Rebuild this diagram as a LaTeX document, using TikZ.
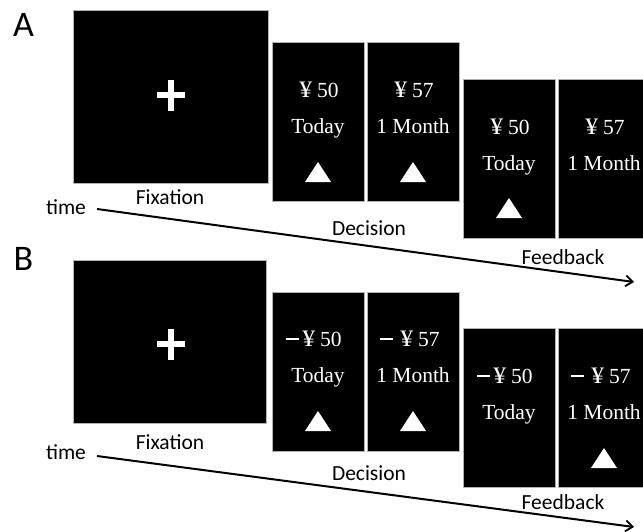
\documentclass[tikz,border=0pt]{standalone}
\usepackage{fontspec}
\setmainfont{Liberation Serif}
\newfontfamily\labfont{Carlito}
\usetikzlibrary{arrows.meta}
\newcommand{\yen}{\scalebox{1.2}[1.1]{¥}\kern5pt }
\newcommand{\minu}{\rule[6.5pt]{13pt}{2pt}\kern3pt }
\begin{document}
\begin{tikzpicture}[x=1pt,y=-1pt,
  screen/.style={fill=black,draw=gray!60,line width=0.8pt,inner sep=0pt},
  lab/.style={font=\labfont\fontsize{21.5}{21.5}\selectfont,inner sep=0pt,anchor=base},
  panel/.style={font=\labfont\fontsize{36}{36}\selectfont,inner sep=0pt,anchor=base},
  stim/.style={text=white,font=\fontsize{21.5}{21.5}\selectfont,inner sep=0pt,anchor=base},
  tri/.style={fill=white},
  crossbar/.style={fill=white},
  timeline/.style={line width=2pt,-{Straight Barb[length=7pt,width=11pt,line width=1.8pt]}}]
\useasboundingbox (0,0) rectangle (643,531);
\clip (0,0) rectangle (643,531);
% ---------------- Panel A ----------------
\node[panel] (A) at (23.5,36) {A};
\node[screen,minimum width=195,minimum height=173] (fixA) at (170.5,96.5) {};
\fill[crossbar] (157,92) rectangle (185,98);
\fill[crossbar] (168,79.5) rectangle (174,110.5);
\node[lab] (fixlabA) at (170,204) {Fixation};
\node[lab] (timeA) at (66,214) {time};
\coordinate (tA0) at (97,209);
\coordinate (tA1) at (634,282);
\draw[timeline] (tA0) -- (tA1);
\node[screen,minimum width=92,minimum height=159] (decA1) at (318,121.5) {};
\node[screen,minimum width=92,minimum height=159] (decA2) at (413,121.5) {};
\node[stim] at (319,97) {\yen 50};
\node[stim] at (318,133) {Today};
\fill[tri] (305,182) -- (331,182) -- (318,162) -- cycle;
\node[stim] at (414,97) {\yen 57};
\node[stim] at (413,133) {1 Month};
\fill[tri] (400,182) -- (426,182) -- (413,162) -- cycle;
\node[lab] (declabA) at (369,235) {Decision};
\node[screen,minimum width=92,minimum height=159] (fbA1) at (509,158.5) {};
\node[screen,minimum width=92,minimum height=159] (fbA2) at (604,158.5) {};
\node[stim] at (510,134) {\yen 50};
\node[stim] at (509,170) {Today};
\fill[tri] (496,218) -- (522,218) -- (509,198) -- cycle;
\node[stim] at (605,134) {\yen 57};
\node[stim] at (604,170) {1 Month};
\node[lab] (fblabA) at (563,264) {Feedback};
% ---------------- Panel B ----------------
\node[panel] (B) at (23.5,270) {B};
\node[screen,minimum width=193,minimum height=163] (fixB) at (169.5,341.5) {};
\fill[crossbar] (157,341) rectangle (185,347);
\fill[crossbar] (168,328.5) rectangle (174,359.5);
\node[lab] (fixlabB) at (170,449) {Fixation};
\node[lab] (timeB) at (66,459) {time};
\coordinate (tB0) at (97,456);
\coordinate (tB1) at (634,527);
\draw[timeline] (tB0) -- (tB1);
\node[screen,minimum width=92,minimum height=159] (decB1) at (318,371.5) {};
\node[screen,minimum width=92,minimum height=159] (decB2) at (413,371.5) {};
\node[stim] at (314,346) {\minu\yen 50};
\node[stim] at (410,346) {\minu\kern4pt\yen 57};
\node[stim] at (318,382) {Today};
\fill[tri] (305,431) -- (331,431) -- (318,411) -- cycle;
\node[stim] at (413,382) {1 Month};
\fill[tri] (400,431) -- (426,431) -- (413,411) -- cycle;
\node[lab] (declabB) at (369,480) {Decision};
\node[screen,minimum width=92,minimum height=159] (fbB1) at (509,408) {};
\node[screen,minimum width=92,minimum height=159] (fbB2) at (604,408) {};
\node[stim] at (505,383) {\minu\yen 50};
\node[stim] at (601,383) {\minu\kern4pt\yen 57};
\node[stim] at (509,419) {Today};
\node[stim] at (604,419) {1 Month};
\fill[tri] (591,468) -- (617,468) -- (604,448) -- cycle;
\node[lab] (fblabB) at (563,509) {Feedback};
\end{tikzpicture}
\end{document}
